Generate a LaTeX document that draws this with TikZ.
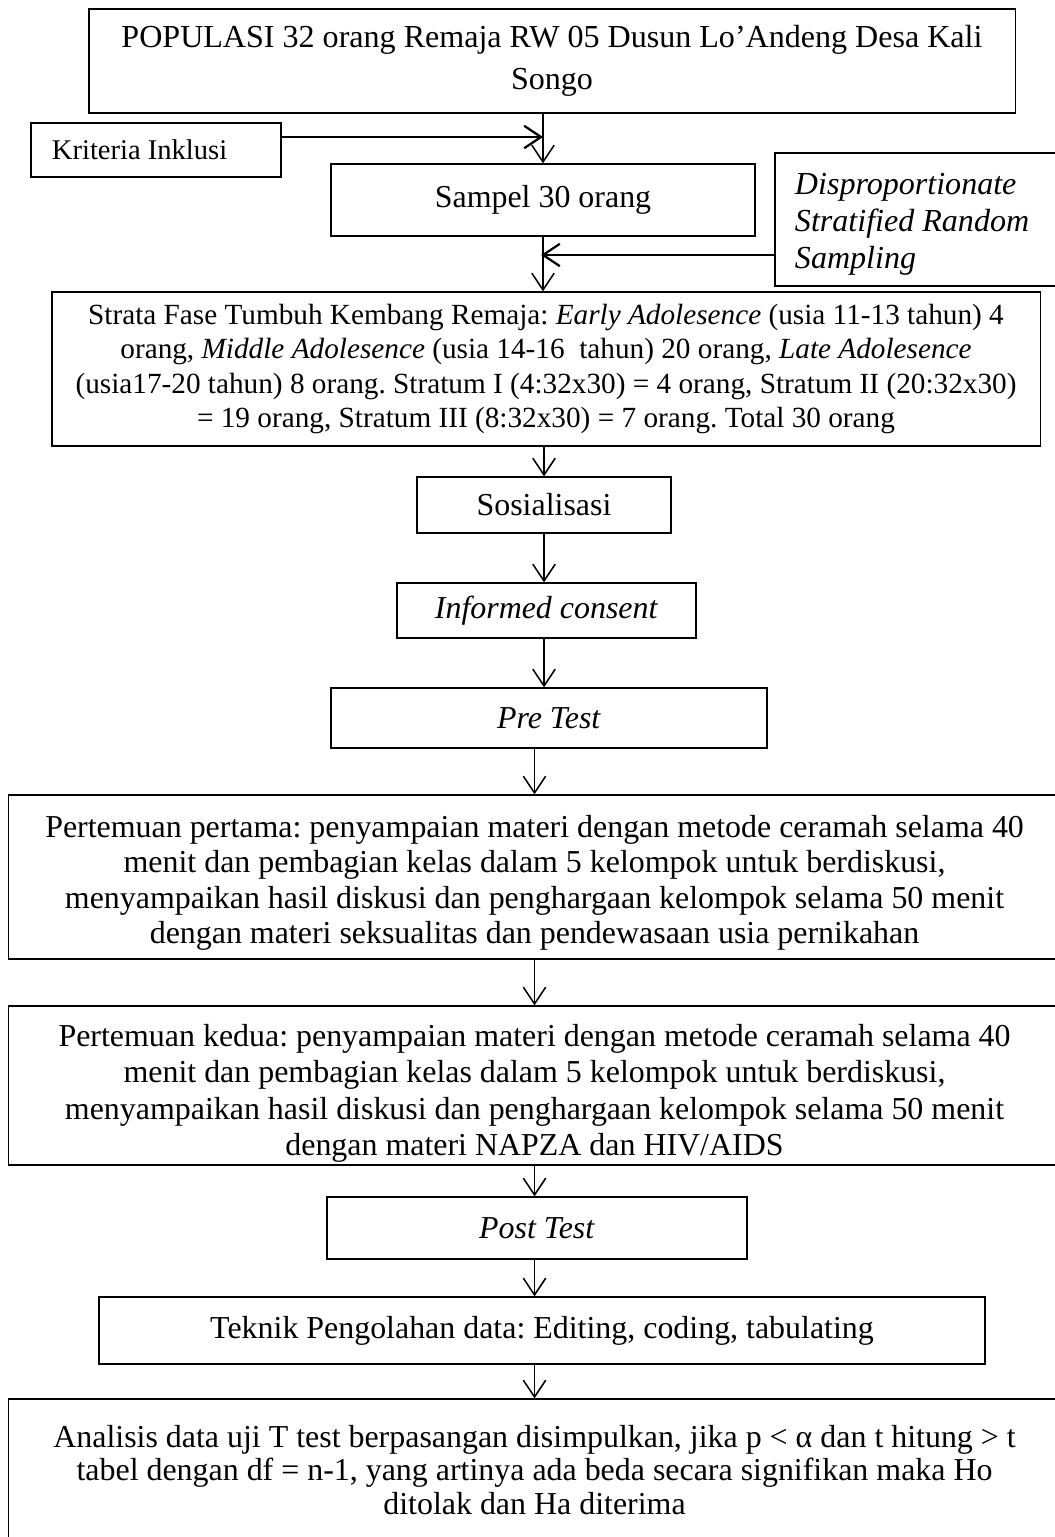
\documentclass[tikz,border=0pt]{standalone}
\usepackage{fontspec}
\setmainfont{Liberation Serif}
\frenchspacing
\usetikzlibrary{arrows.meta}
\tikzset{
    flowbox/.style={rectangle, draw=black, line width=0.9pt, inner sep=0pt, align=center, font=\fontsize{22.7}{25.5}\selectfont},
    sidebox/.style={flowbox, align=flush left},
    myarrow/.style={-{Straight Barb[length=0.42cm, width=0.56cm]}, line width=1.1pt},
    sidearrow/.style={myarrow, line width=1.6pt}
}

\begin{document}
\begin{tikzpicture}[x=0.025cm, y=-0.025cm]
        \useasboundingbox (0,0) rectangle (1054,1537);

        % ------------------
        % nodes
        % ------------------

        \node[flowbox, minimum width=23.15cm, minimum height=2.6cm, font=\fontsize{22.8}{29.8}\selectfont] (populasi) at (552,61) {POPULASI 32 orang Remaja RW 05 Dusun Lo’Andeng Desa Kali\\Songo};
        \node[sidebox, minimum height=1.35cm, text width=5.2cm, inner xsep=0.525cm, font=\fontsize{20.3}{24}\selectfont] (kriteria) at (156,150) {Kriteria Inklusi};
        \node[flowbox, minimum width=10.6cm, minimum height=1.8cm] (sampel) at (543,200) {Sampel 30 orang};
        \node[sidebox, minimum height=3.325cm, text width=6.125cm, inner xsep=0.5cm, font=\fontsize{22.8}{26.5}\selectfont] (sampling) at (917.5,219.5) {\rule{0pt}{22pt}\textit{Disproportionate}\\\textit{Stratified Random}\\\textit{Sampling}};

        \node[flowbox, minimum width=24.7cm, minimum height=3.85cm, font=\fontsize{20.8}{24.3}\selectfont] (strata) at (546,369) {Strata Fase Tumbuh Kembang Remaja: \textit{Early Adolesence} (usia 11-13 tahun) 4\\orang, \textit{Middle Adolesence} (usia 14-16\ \ tahun) 20 orang, \textit{Late Adolesence}\\(usia17-20 tahun) 8 orang. Stratum I (4:32x30) = 4 orang, Stratum II (20:32x30)\\= 19 orang, Stratum III (8:32x30) = 7 orang. Total 30 orang};

        \node[flowbox, minimum width=6.35cm, minimum height=1.4cm] (sosialisasi) at (544,505) {Sosialisasi};
        \node[flowbox, minimum width=7.475cm, minimum height=1.375cm] (consent) at (546.5,610.5) {\textit{Informed consent}};
        \node[flowbox, minimum width=10.9cm, minimum height=1.5cm] (pretest) at (549,718) {\textit{Pre Test}};

        \node[flowbox, minimum width=26.275cm, minimum height=4.1cm, font=\fontsize{22.7}{25.3}\selectfont] (pertama) at (534.5,877) {\rule{0pt}{24pt}Pertemuan pertama: penyampaian materi dengan metode ceramah selama 40\\menit dan pembagian kelas dalam 5 kelompok untuk berdiskusi,\\menyampaikan hasil diskusi dan penghargaan kelompok selama 50 menit\\dengan materi seksualitas dan pendewasaan usia pernikahan};
        \node[flowbox, minimum width=26.275cm, minimum height=3.975cm, font=\fontsize{22.7}{25.7}\selectfont] (kedua) at (534.5,1085.5) {\rule{0pt}{27pt}Pertemuan kedua: penyampaian materi dengan metode ceramah selama 40\\menit dan pembagian kelas dalam 5 kelompok untuk berdiskusi,\\menyampaikan hasil diskusi dan penghargaan kelompok selama 50 menit\\dengan materi NAPZA dan HIV/AIDS};

        \node[flowbox, minimum width=10.5cm, minimum height=1.55cm] (posttest) at (537,1228) {\textit{Post Test}};
        \node[flowbox, minimum width=22.15cm, minimum height=1.675cm] (pengolahan) at (542,1330.5) {Teknik Pengolahan data: Editing, coding, tabulating};
        \node[flowbox, minimum width=26.275cm, minimum height=3.55cm, font=\fontsize{22.7}{24}\selectfont] (analisis) at (534.5,1470) {Analisis data uji T test berpasangan disimpulkan, jika p < α dan t hitung > t\\tabel dengan df = n-1, yang artinya ada beda secara signifikan maka Ho\\ditolak dan Ha diterima};

        % ------------------
        % arrows
        % ------------------

        \coordinate (kriteriaIn) at (543,137);
        \coordinate (samplingIn) at (541,255);
        \draw[sidearrow] (kriteriaIn -| kriteria.east) to (kriteriaIn);
        \draw[sidearrow] (samplingIn -| sampling.west) to (samplingIn);

        \draw[myarrow] (sampel.north |- populasi.south) to (sampel.north);
        \draw[myarrow] (sampel.south) to (sampel.south |- strata.north);
        \draw[myarrow] (sosialisasi.north |- strata.south) to (sosialisasi.north);
        \draw[myarrow] (sosialisasi.south) to (sosialisasi.south |- consent.north);
        \draw[myarrow] (sosialisasi.south |- consent.south) to (sosialisasi.south |- pretest.north);

        \draw[myarrow] (pertama.north |- pretest.south) to (pertama.north);
        \draw[myarrow] (pertama.south) to (kedua.north);
        \draw[myarrow] (kedua.south) to (kedua.south |- posttest.north);
        \draw[myarrow] (kedua.south |- posttest.south) to (kedua.south |- pengolahan.north);
        \draw[myarrow] (kedua.south |- pengolahan.south) to (analisis.north);

    \end{tikzpicture}
\end{document}
